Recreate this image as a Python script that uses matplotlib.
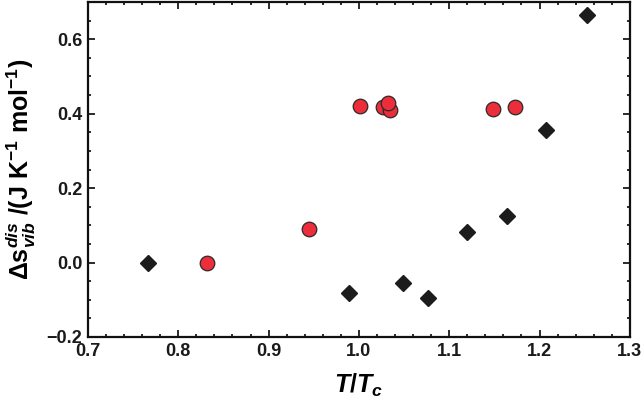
import matplotlib
matplotlib.use("Agg")
import matplotlib.pyplot as plt
from matplotlib.ticker import MultipleLocator

# black diamonds
t_diamond = [0.766, 0.989, 1.049, 1.077, 1.120, 1.164, 1.207, 1.253]
s_diamond = [0.000, -0.083, -0.056, -0.094, 0.083, 0.124, 0.357, 0.664]

# red circles
t_circle = [0.832, 0.945, 1.001, 1.027, 1.034, 1.032, 1.148, 1.173]
s_circle = [0.000, 0.091, 0.422, 0.417, 0.409, 0.430, 0.414, 0.419]

x_ticks = [0.7, 0.8, 0.9, 1.0, 1.1, 1.2, 1.3]
y_ticks = [-0.2, 0.0, 0.2, 0.4, 0.6]

plt.rcParams['font.family'] = ['Liberation Sans', 'DejaVu Sans']
plt.rcParams['font.weight'] = 'bold'
plt.rcParams['mathtext.fontset'] = 'custom'
plt.rcParams['mathtext.rm'] = 'Liberation Sans:bold'
plt.rcParams['mathtext.bf'] = 'Liberation Sans:bold'
plt.rcParams['mathtext.it'] = 'Liberation Sans:bold:italic'

fig = plt.figure(figsize=(6.44, 4.15), dpi=100)
ax = fig.add_axes([0.1366, 0.188, 0.8414, 0.807])

ax.plot(t_diamond, s_diamond, linestyle='none', marker='D', markersize=8.2,
        color='#1c1c1c', markeredgecolor='#1c1c1c', zorder=3)
ax.plot(t_circle, s_circle, linestyle='none', marker='o', markersize=10.5,
        markerfacecolor='#ec2d3a', markeredgecolor='#2a2a2a', markeredgewidth=0.9, zorder=3)

ax.set_xlim(0.7, 1.3)
ax.set_ylim(-0.2, 0.7)
ax.set_xticks(x_ticks)
ax.set_yticks(y_ticks)
ax.xaxis.set_minor_locator(MultipleLocator(0.02))
ax.yaxis.set_minor_locator(MultipleLocator(0.05))
ax.tick_params(which='both', direction='in', top=True, right=True, width=1.3,
               labelsize=13, colors='#1a1a1a', pad=4)
ax.tick_params(which='major', length=5)
ax.tick_params(which='minor', length=2.5)
for lbl in ax.get_xticklabels() + ax.get_yticklabels():
    lbl.set_fontweight('bold')
for sp in ax.spines.values():
    sp.set_linewidth(1.6)
    sp.set_color('#111111')

ax.set_xlabel(r'$\mathit{T/T_c}$', fontsize=18, labelpad=9)
ax.set_ylabel(r'$\Delta\mathbf{s}_{\mathit{vib}}^{\mathit{dis}}$ /(J K$^{\mathbf{-1}}$ mol$^{\mathbf{-1}}$)',
              fontsize=18, fontweight='bold', labelpad=6)

fig.savefig('out.png', dpi=100)
